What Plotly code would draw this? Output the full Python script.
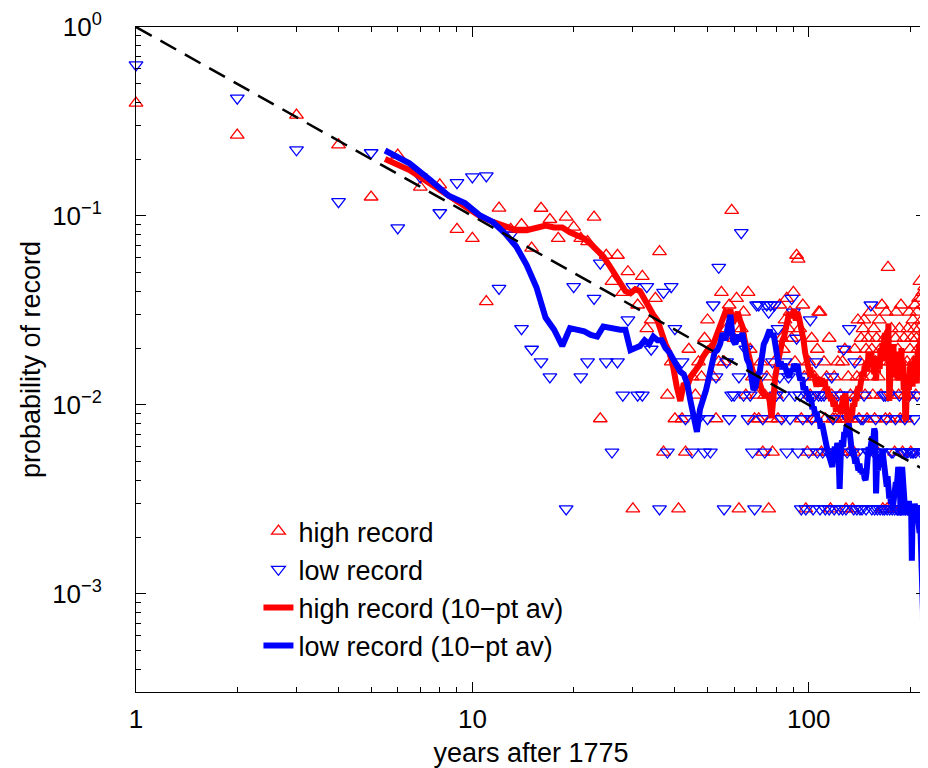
import plotly.graph_objects as go

# stations reporting each year (from year 14 on)
n_stations = 355

years = list(range(1, 223))

# years 1-13, read directly as probabilities
high_early = [0.396, 0.268, 0.342, 0.238, 0.126, 0.21, 0.142, 0.146, 0.085, 0.0762, 0.0352, 0.110, 0.085]
low_early = [0.63, 0.42, 0.224, 0.119, 0.216, 0.0864, 0.161, 0.104, 0.15, 0.161, 0.163, 0.0414, 0.0794]

# years 14-222, number of stations setting a record
high_count = [
    32, 24, 39, 34, 27, 35, 31, 27, 26, 35,
    3, 22, 16, 22, 14, 18, 1, 12, 17, 9,
    10, 13, 23, 2, 4, 6, 3, 1, 3, 2,
    7, 5, 4, 6, 5, 8, 10, 7, 5, 3,
    6, 14, 6, 9, 12, 38, 8, 13, 1, 9,
    11, 4, 14, 7, 5, 3, 4, 3, 6, 2,
    4, 5, 1, 3, 2, 6, 4, 3, 12, 8,
    7, 10, 13, 9, 11, 8, 14, 6, 22, 21,
    9, 3, 12, 5, 1, 2, 6, 4, 8, 3,
    5, 3, 7, 11, 11, 2, 4, 6, 3, 5,
    2, 8, 1, 4, 3, 5, 3, 2, 6, 3,
    4, 2, 6, 3, 7, 1, 3, 5, 2, 4,
    3, 1, 2, 7, 4, 5, 10, 3, 6, 8,
    5, 9, 10, 4, 7, 3, 8, 6, 11, 5,
    7, 4, 9, 3, 6, 8, 2, 5, 10, 7,
    4, 12, 1, 6, 8, 3, 11, 1, 19, 7,
    3, 6, 9, 4, 1, 5, 2, 8, 11, 6,
    7, 4, 9, 3, 12, 6, 2, 5, 8, 4,
    1, 3, 6, 9, 4, 11, 7, 2, 8, 5,
    10, 6, 9, 12, 4, 8, 11, 7, 13, 9,
    16, 6, 13, 10, 14, 8, 12, 15, 9,
]
low_count = [
    9, 7, 6, 5, 0, 1, 15, 5, 6, 13,
    20, 6, 2, 6, 4, 10, 15, 4, 4, 15,
    7, 0, 1, 14, 2, 15, 9, 0, 6, 3,
    0, 2, 0, 3, 0, 2, 3, 2, 12, 5,
    19, 0, 1, 6, 3, 4, 4, 8, 5, 29,
    4, 7, 3, 4, 2, 1, 12, 12, 5, 3,
    2, 12, 11, 12, 6, 12, 4, 9, 5, 3,
    4, 6, 2, 5, 3, 13, 11, 4, 8, 2,
    4, 1, 3, 5, 1, 4, 2, 10, 3, 1,
    4, 6, 2, 4, 1, 4, 2, 4, 1, 0,
    2, 1, 0, 5, 3, 1, 2, 0, 4, 1,
    0, 4, 1, 7, 0, 1, 2, 3, 9, 4,
    0, 2, 1, 6, 0, 1, 2, 0, 1, 3,
    1, 3, 4, 0, 1, 0, 2, 2, 0, 12,
    1, 0, 2, 1, 3, 0, 1, 2, 0, 1,
    2, 0, 1, 4, 1, 4, 3, 1, 4, 0,
    1, 0, 2, 1, 2, 0, 1, 3, 0, 1,
    1, 0, 4, 1, 1, 2, 0, 2, 1, 3,
    1, 2, 1, 2, 0, 4, 1, 2, 1, 2,
    1, 2, 3, 1, 2, 0, 4, 1, 0, 1,
    1, 2, 0, 1, 2, 1, 0, 1, 0,
]

# 10-pt running averages, centred at year + 0.5 starting at 5.5
high_avg = [
    0.20, 0.175, 0.148, 0.127, 0.112, 0.100, 0.093, 0.089, 0.084, 0.084,
    0.086, 0.089, 0.087, 0.087, 0.082, 0.079, 0.076, 0.071, 0.066, 0.061,
    0.055, 0.049, 0.044, 0.040, 0.039, 0.041, 0.040, 0.036, 0.033, 0.030,
    0.028, 0.024, 0.021, 0.019, 0.016, 0.0125, 0.0105, 0.013, 0.0125, 0.014,
    0.0148, 0.016, 0.0165, 0.018, 0.019, 0.020, 0.020, 0.022, 0.024, 0.026,
    0.029, 0.031, 0.030, 0.032, 0.027,
    0.029, 0.031, 0.028, 0.026, 0.022, 0.019, 0.018, 0.016, 0.015, 0.0135,
    0.0135, 0.013, 0.012, 0.0115, 0.011, 0.0115, 0.0105, 0.0085, 0.012, 0.014,
    0.016, 0.018, 0.021, 0.022, 0.023, 0.025, 0.029, 0.031, 0.029, 0.031,
    0.032, 0.028, 0.031, 0.029, 0.027, 0.024, 0.022, 0.019, 0.017, 0.016,
    0.0148, 0.015, 0.014, 0.0145, 0.013, 0.0125, 0.0135, 0.014, 0.0125, 0.0138,
    0.013, 0.0135, 0.012, 0.0125, 0.011, 0.0115, 0.0105, 0.011, 0.0098, 0.0105,
    0.0092, 0.01, 0.0094, 0.0098, 0.009, 0.0105, 0.0112, 0.0105, 0.0115, 0.0098,
    0.0077, 0.009, 0.0083, 0.0095, 0.0088, 0.0102, 0.0098, 0.011, 0.0105, 0.012,
    0.0125, 0.0118, 0.0135, 0.013, 0.015, 0.014, 0.016, 0.0155, 0.017, 0.015,
    0.019, 0.016, 0.0174, 0.019, 0.0165, 0.018, 0.0145, 0.017, 0.0135, 0.016,
    0.0147, 0.018, 0.0155, 0.02, 0.017, 0.021, 0.018, 0.022, 0.024, 0.019,
    0.022, 0.017, 0.027, 0.0105, 0.018, 0.014, 0.02, 0.016, 0.021, 0.015,
    0.019, 0.014, 0.018, 0.0135, 0.0165, 0.0147, 0.019, 0.016, 0.02, 0.014,
    0.017, 0.012, 0.0145, 0.0085, 0.0083, 0.012, 0.0105, 0.014, 0.012, 0.016,
    0.013, 0.017, 0.015, 0.0125, 0.016, 0.0135, 0.018, 0.015, 0.0174, 0.013,
    0.019, 0.016, 0.021, 0.017, 0.022, 0.019, 0.025, 0.02, 0.024, 0.021,
    0.028, 0.024, 0.027,
]
low_avg = [
    0.222, 0.19, 0.155, 0.128, 0.117, 0.101, 0.093, 0.081, 0.069, 0.055,
    0.042, 0.029, 0.025, 0.0205, 0.0255, 0.025, 0.0245, 0.0235, 0.023, 0.026,
    0.0255, 0.025, 0.025, 0.025, 0.0195, 0.020, 0.0205, 0.022, 0.021, 0.023,
    0.022, 0.022, 0.020, 0.019, 0.0175, 0.016, 0.015, 0.0145, 0.013, 0.0105,
    0.0085, 0.0072, 0.0095, 0.0105, 0.012, 0.014, 0.016, 0.019, 0.0195, 0.021,
    0.024, 0.022, 0.026, 0.030, 0.022,
    0.021, 0.0235, 0.022, 0.024, 0.020, 0.0175, 0.0165, 0.0145, 0.012, 0.0125,
    0.0145, 0.015, 0.018, 0.021, 0.022, 0.0235, 0.025, 0.023, 0.024, 0.021,
    0.018, 0.016, 0.017, 0.0155, 0.0165, 0.015, 0.0145, 0.014, 0.0155, 0.015,
    0.0165, 0.0155, 0.0165, 0.0145, 0.0135, 0.014, 0.012, 0.0125, 0.0115, 0.0118,
    0.0105, 0.011, 0.0095, 0.0098, 0.0088, 0.0092, 0.0082, 0.0085, 0.0075, 0.008,
    0.0072, 0.0068, 0.0062, 0.0058, 0.0055, 0.0052, 0.005, 0.0047, 0.0055, 0.006,
    0.0052, 0.0063, 0.0058, 0.0036, 0.0055, 0.0065, 0.006, 0.0072, 0.0068, 0.0078,
    0.0075, 0.008, 0.0068, 0.0062, 0.0055, 0.0058, 0.0053, 0.0049, 0.0052, 0.0047,
    0.0045, 0.0049, 0.0044, 0.0046, 0.0043, 0.0045, 0.0041, 0.004, 0.0044, 0.005,
    0.006, 0.0055, 0.0062, 0.0058, 0.0068, 0.0064, 0.0075, 0.0072, 0.0034, 0.0048,
    0.0045, 0.0052, 0.0047, 0.0055, 0.005, 0.0058, 0.0052, 0.0049, 0.0046, 0.004,
    0.0037, 0.0042, 0.0036, 0.0032, 0.0034, 0.003, 0.0033, 0.0028, 0.0031, 0.0035,
    0.0033, 0.0039, 0.0036, 0.0042, 0.0047, 0.0044, 0.0038, 0.0026, 0.0035, 0.0047,
    0.0042, 0.0036, 0.003, 0.0027, 0.0029, 0.0027, 0.003, 0.0028, 0.0031, 0.0028,
    0.0026, 0.0029, 0.0015, 0.0026, 0.0029, 0.0027, 0.003, 0.0028, 0.0027, 0.0029,
    0.0026, 0.0028, 0.0025, 0.0021, 0.0024, 0.0017, 0.0022, 0.0012, 0.0008, 0.0001,
]

# 1/n expectation for independent years
ref_x = [1, 225]

high_prob = high_early + [c / n_stations if c else None for c in high_count]
low_prob = low_early + [c / n_stations if c else None for c in low_count]
high_avg_x = [5.5 + i for i in range(len(high_avg))]
low_avg_x = [5.5 + i for i in range(len(low_avg))]
ref_y = [1 / x for x in ref_x]

FONT = "Liberation Sans, Arial, Helvetica, sans-serif"

fig = go.Figure()
fig.add_trace(go.Scatter(
    x=years, y=high_prob, mode="markers", name="high record",
    marker=dict(symbol="triangle-up-open", size=12, color="#ff0000", line=dict(width=1.3)),
    cliponaxis=False,
))
fig.add_trace(go.Scatter(
    x=years, y=low_prob, mode="markers", name="low record",
    marker=dict(symbol="triangle-down-open", size=12, color="#0000ff", line=dict(width=1.3)),
    cliponaxis=False,
))
fig.add_trace(go.Scatter(
    x=high_avg_x, y=high_avg, mode="lines", name="high record (10\u2212pt av)",
    line=dict(color="#ff0000", width=6),
))
fig.add_trace(go.Scatter(
    x=low_avg_x, y=low_avg, mode="lines", name="low record (10\u2212pt av)",
    line=dict(color="#0000ff", width=6),
))
fig.add_trace(go.Scatter(
    x=ref_x, y=ref_y, mode="lines", showlegend=False,
    line=dict(color="black", width=2.5, dash="18px,10px"),
))

axis_common = dict(
    showgrid=False, zeroline=False, showline=True, linecolor="black", linewidth=1,
    mirror="ticks", ticks="inside", ticklen=10, tickwidth=1, tickcolor="black",
    tickfont=dict(size=26, color="black", family=FONT),
    minor=dict(ticks="inside", ticklen=5, tickwidth=1, tickcolor="black", dtick="D1", showgrid=False),
)

fig.update_xaxes(
    type="log", range=[0, 2.3485],
    tickvals=[1, 10, 100], ticktext=["1", "10", "100"],
    ticklabelstandoff=4,
    title=dict(text="years after 1775", font=dict(size=27, color="black", family=FONT), standoff=12),
    **axis_common,
)
fig.update_yaxes(
    type="log", range=[-3.519, 0],
    tickvals=[1, 0.1, 0.01, 0.001],
    ticktext=["10<sup>0</sup>", "10<sup>\u22121</sup>", "10<sup>\u22122</sup>", "10<sup>\u22123</sup>"],
    ticklabelstandoff=28,
    title=dict(text="probability of record", font=dict(size=27, color="black", family=FONT), standoff=3),
    **axis_common,
)

# the page body adds an 8px offset, so the figure is 8px smaller and margins shifted
fig.update_layout(
    width=920, height=760,
    margin=dict(l=128, r=2, t=19, b=76, autoexpand=False),
    paper_bgcolor="white", plot_bgcolor="white",
    font=dict(family=FONT, color="black"),
    legend=dict(
        x=0.155, y=0.278, xanchor="left", yanchor="top",
        bgcolor="rgba(0,0,0,0)", borderwidth=0,
        font=dict(size=27, color="black", family=FONT),
        tracegroupgap=0,
    ),
)

fig.write_html("out.html")
